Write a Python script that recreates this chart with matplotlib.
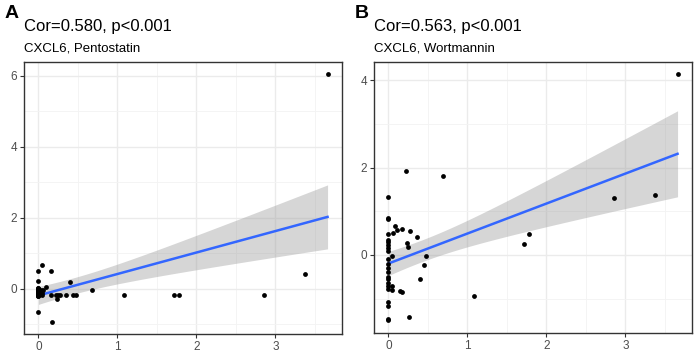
import numpy as np
import matplotlib.pyplot as plt

plt.rcParams['font.family'] = ['Liberation Sans', 'DejaVu Sans']

# panel A: CXCL6 vs Pentostatin (many points overlap near x=0)
xa = [0, 0, 0, 0, 0, 0, 0, 0, 0, 0, 0, 0, 0, 0, 0, 0, 0, 0, 0, 0, 0, 0,
      0.04, 0.05, 0.03, 0.10, 0.06, 0.05, 0.16, 0.16, 0.17, 0.22, 0.24, 0.25, 0.27,
      0.35, 0.40, 0.44, 0.48, 0.68, 1.08, 1.72, 1.78, 2.85, 3.38, 3.66, 0.02]
ya = [0.49, 0.21, 0.02, -0.05, -0.18, -0.67, 0.0, -0.10, -0.15, -0.18, -0.20, -0.05, 0.03,
      -0.12, -0.18, -0.08, 0.0, -0.16, -0.20, -0.10, -0.02, -0.18,
      -0.18, 0.66, -0.05, 0.05, -0.05, -0.12, 0.51, -0.18, -0.93, -0.18, -0.29, -0.18, -0.18,
      -0.18, 0.18, -0.18, -0.18, -0.03, -0.17, -0.17, -0.18, -0.18, 0.40, 6.03, -0.15]

# panel B: CXCL6 vs Wortmannin
xb = [0, 0, 0, 0, 0, 0, 0, 0, 0, 0, 0, 0, 0, 0, 0, 0, 0, 0, 0, 0, 0, 0,
      0.04, 0.05, 0.05, 0.08, 0.11, 0.06, 0.17, 0.15, 0.17, 0.22, 0.23, 0.25, 0.26, 0.27,
      0.36, 0.40, 0.45, 0.48, 0.69, 1.08, 1.72, 1.78, 2.85, 3.38, 3.66]
yb = [1.33, 0.85, 0.82, 0.48, 0.35, 0.30, 0.23, 0.15, 0.09, -0.10, -0.20, -0.30, -0.40,
      -0.50, -0.55, -0.65, -0.72, -0.78, -1.08, -1.18, -1.47, -1.50,
      -0.70, -0.80, -0.02, 0.66, 0.57, 0.50, 0.60, -0.82, -0.85, 1.92, 0.27, 0.19, -1.43, 0.55,
      0.41, -0.54, -0.22, -0.03, 1.80, -0.95, 0.25, 0.48, 1.30, 1.37, 4.14]

titles = ["Cor=0.580, p<0.001", "Cor=0.563, p<0.001"]
subtitles = ["CXCL6, Pentostatin", "CXCL6, Wortmannin"]
letters = ["A", "B"]

fig = plt.figure(figsize=(6.99, 3.54), dpi=100)
boxes = [[0.0343, 0.0565, 0.455, 0.768], [0.535, 0.060, 0.455, 0.765]]
yticks = [[0, 2, 4, 6], [0, 2, 4]]
yminor = [[-1, 1, 3, 5], [-1, 1, 3]]

for i, (x, y) in enumerate([(xa, ya), (xb, yb)]):
    x = np.array(x)
    y = np.array(y)
    ax = fig.add_axes(boxes[i])
    # linear fit with 95% confidence band
    n = len(x)
    b, a = np.polyfit(x, y, 1)
    resid = y - (a + b * x)
    s = np.sqrt(np.sum(resid ** 2) / (n - 2))
    xs = np.linspace(x.min(), x.max(), 100)
    se = s * np.sqrt(1 / n + (xs - x.mean()) ** 2 / np.sum((x - x.mean()) ** 2))
    fit = a + b * xs
    ax.fill_between(xs, fit - 2.02 * se, fit + 2.02 * se, color="#999999", alpha=0.4, lw=0, zorder=2)
    ax.plot(xs, fit, color="#3366FF", lw=1.8, zorder=3)
    ax.scatter(x, y, s=12, color="black", zorder=4, linewidths=0)

    xr = x.max() - x.min()
    ax.set_xlim(x.min() - 0.05 * xr, x.max() + 0.05 * xr)
    yr = y.max() - y.min()
    ax.set_ylim(y.min() - 0.05 * yr, y.max() + 0.05 * yr)
    ax.set_xticks([0, 1, 2, 3])
    ax.set_yticks(yticks[i])
    ax.set_xticks([0.5, 1.5, 2.5, 3.5], minor=True)
    ax.set_yticks(yminor[i], minor=True)
    ax.grid(True, which="major", color="#EBEBEB", lw=1.0, zorder=0)
    ax.grid(True, which="minor", color="#F3F3F3", lw=0.6, zorder=0)
    ax.set_axisbelow(True)
    ax.tick_params(which="major", length=3, width=0.8, color="#333333",
                   labelsize=8.5, labelcolor="#4D4D4D", pad=2)
    ax.tick_params(which="minor", length=0)
    for sp in ax.spines.values():
        sp.set_color("#333333")
        sp.set_linewidth(1.0)

    left = boxes[i][0]
    fig.text(left, 0.913, titles[i], fontsize=12, ha="left", va="baseline")
    fig.text(left, 0.855, subtitles[i], fontsize=9.5, ha="left", va="baseline")
    fig.text(left - 0.028, 0.948, letters[i], fontsize=14, fontweight="bold", ha="left", va="baseline")

plt.savefig("out.png", dpi=100)
